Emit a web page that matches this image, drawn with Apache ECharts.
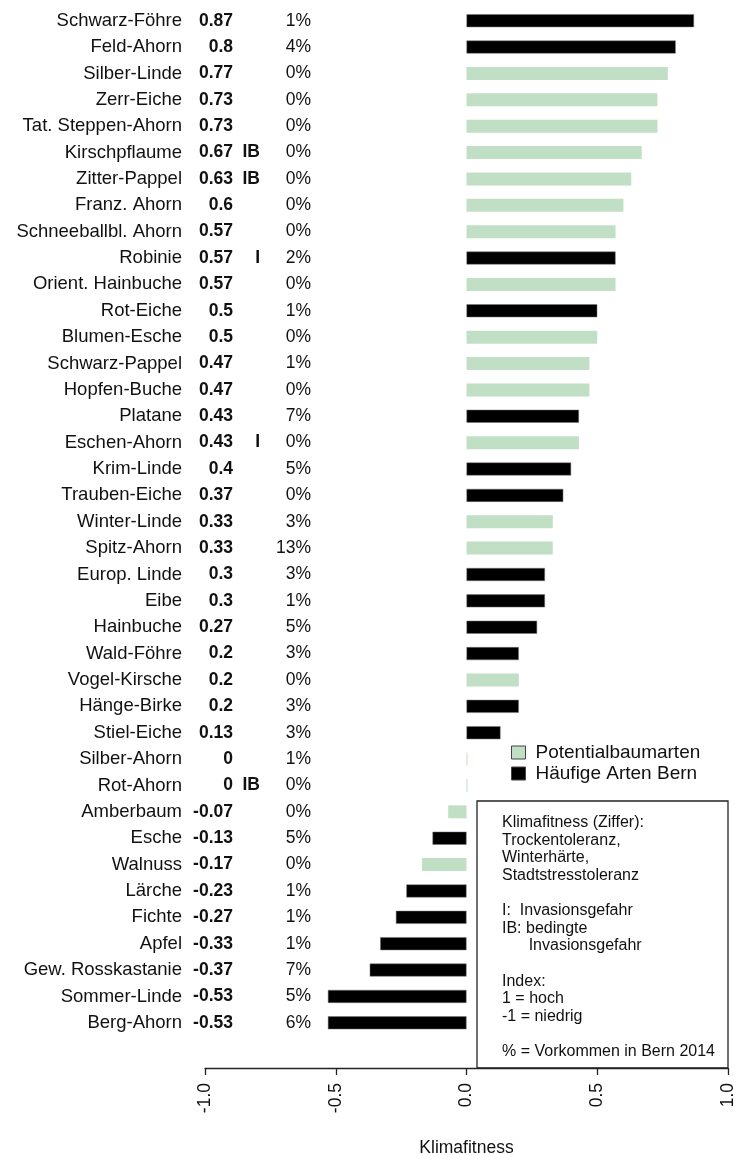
<!DOCTYPE html>
<html>
<head>
<meta charset="utf-8">
<script src="https://cdn.jsdelivr.net/npm/echarts@6/dist/echarts.min.js"></script>
<style>
  html, body { margin: 0; padding: 0; background: #fff; }
  #chart { width: 736px; height: 1155px; }
</style>
</head>
<body>
<div id="chart"></div>
<script>
// Baumarten (von oben nach unten)
const species = [
  'Schwarz-Föhre', 'Feld-Ahorn', 'Silber-Linde', 'Zerr-Eiche', 'Tat. Steppen-Ahorn',
  'Kirschpflaume', 'Zitter-Pappel', 'Franz. Ahorn', 'Schneeballbl. Ahorn', 'Robinie',
  'Orient. Hainbuche', 'Rot-Eiche', 'Blumen-Esche', 'Schwarz-Pappel', 'Hopfen-Buche',
  'Platane', 'Eschen-Ahorn', 'Krim-Linde', 'Trauben-Eiche', 'Winter-Linde',
  'Spitz-Ahorn', 'Europ. Linde', 'Eibe', 'Hainbuche', 'Wald-Föhre',
  'Vogel-Kirsche', 'Hänge-Birke', 'Stiel-Eiche', 'Silber-Ahorn', 'Rot-Ahorn',
  'Amberbaum', 'Esche', 'Walnuss', 'Lärche', 'Fichte',
  'Apfel', 'Gew. Rosskastanie', 'Sommer-Linde', 'Berg-Ahorn'
];
// Klimafitness
const fitness = [
  0.87, 0.8, 0.77, 0.73, 0.73,
  0.67, 0.63, 0.6, 0.57, 0.57,
  0.57, 0.5, 0.5, 0.47, 0.47,
  0.43, 0.43, 0.4, 0.37, 0.33,
  0.33, 0.3, 0.3, 0.27, 0.2,
  0.2, 0.2, 0.13, 0, 0,
  -0.07, -0.13, -0.17, -0.23, -0.27,
  -0.33, -0.37, -0.53, -0.53
];
// Invasionsgefahr
const invasion = [
  '', '', '', '', '',
  'IB', 'IB', '', '', 'I',
  '', '', '', '', '',
  '', 'I', '', '', '',
  '', '', '', '', '',
  '', '', '', '', 'IB',
  '', '', '', '', '',
  '', '', '', ''
];
// Vorkommen in Bern 2014 (%)
const share = [
  1, 4, 0, 0, 0,
  0, 0, 0, 0, 2,
  0, 1, 0, 1, 0,
  7, 0, 5, 0, 3,
  13, 3, 1, 5, 3,
  0, 3, 3, 1, 0,
  0, 5, 0, 1, 1,
  1, 7, 5, 6
];
// 1 = Häufige Arten Bern, 0 = Potentialbaumarten
const common = [
  1, 1, 0, 0, 0,
  0, 0, 0, 0, 1,
  0, 1, 0, 0, 0,
  1, 0, 1, 1, 0,
  0, 1, 1, 1, 1,
  0, 1, 1, 0, 0,
  0, 1, 0, 1, 1,
  1, 1, 1, 1
];
const xTicks = [-1, -0.5, 0, 0.5, 1];

const noteLines = [
  'Klimafitness (Ziffer):',
  'Trockentoleranz,',
  'Winterhärte,',
  'Stadtstresstoleranz',
  '',
  'I:  Invasionsgefahr',
  'IB: bedingte',
  '      Invasionsgefahr',
  '',
  'Index:',
  '1 = hoch',
  '-1 = niedrig',
  '',
  '% = Vorkommen in Bern 2014'
];

const GREEN = '#c1dfc4';
const FONT = 'Liberation Sans, Arial, sans-serif';

const potential = fitness.map((v, i) => common[i] ? '-' : v);
const haeufig = fitness.map((v, i) => common[i] ? v : '-');

const chart = echarts.init(document.getElementById('chart'));
chart.setOption({
  animation: false,
  textStyle: { fontFamily: FONT },
  grid: { left: 205, right: 8, top: 7.5, bottom: 119, containLabel: false, outerBoundsMode: 'none' },
  legend: {
    orient: 'vertical',
    left: 506,
    top: 738,
    itemWidth: 14,
    itemHeight: 13,
    itemGap: 2,
    icon: 'rect',
    data: ['Potentialbaumarten', 'Häufige Arten Bern'],
    textStyle: { fontSize: 19, color: '#111', fontFamily: FONT, padding: [0, 0, 0, 5] },
    itemStyle: { borderColor: '#444', borderWidth: 1 }
  },
  xAxis: {
    type: 'value',
    min: -1,
    max: 1,
    interval: 0.5,
    offset: 32,
    splitLine: { show: false },
    axisLine: { show: true, onZero: false, lineStyle: { color: '#222', width: 1.3 } },
    axisTick: { show: true, length: 7, lineStyle: { color: '#222', width: 1.3 } },
    axisLabel: {
      rotate: 90,
      margin: 15,
      fontSize: 17.5,
      color: '#111',
      customValues: xTicks,
      formatter: v => v.toFixed(1)
    },
    name: 'Klimafitness',
    nameLocation: 'middle',
    nameGap: 71,
    nameTextStyle: { fontSize: 17.5, color: '#111' }
  },
  yAxis: {
    type: 'category',
    inverse: true,
    data: species,
    offset: -106,
    axisLine: { show: false, onZero: false },
    axisTick: { show: false },
    splitLine: { show: false },
    axisLabel: {
      margin: 0,
      interval: 0,
      color: '#111',
      fontSize: 17.5,
      formatter: (name, i) =>
        '{n|' + name + '}{v|' + String(fitness[i]) + '}{f|' + (invasion[i] || ' ') + '}{p|' + share[i] + '%}',
      rich: {
        n: { width: 180, align: 'right', fontSize: 18.5, color: '#111' },
        v: { width: 51, align: 'right', fontSize: 17.5, fontWeight: 'bold', color: '#111' },
        f: { width: 27, align: 'right', fontSize: 17.5, fontWeight: 'bold', color: '#111' },
        p: { width: 51, align: 'right', fontSize: 17.5, color: '#111' }
      }
    }
  },
  series: [
    {
      name: 'Potentialbaumarten',
      type: 'bar',
      data: potential,
      barWidth: 13,
      barGap: '-100%',
      barMinHeight: 1,
      itemStyle: { color: GREEN }
    },
    {
      name: 'Häufige Arten Bern',
      type: 'bar',
      data: haeufig,
      barWidth: 13,
      barGap: '-100%',
      itemStyle: { color: '#000', borderColor: '#777', borderWidth: 0.5 }
    }
  ],
  graphic: [
    {
      type: 'rect',
      shape: { x: 477, y: 801, width: 251, height: 267 },
      style: { fill: 'none', stroke: '#222', lineWidth: 1.3 },
      silent: true
    },
    {
      type: 'text',
      x: 502,
      y: 814,
      style: {
        text: noteLines.join('\n'),
        font: '16px ' + FONT,
        lineHeight: 17.6,
        fill: '#111'
      },
      silent: true
    }
  ]
});
</script>
</body>
</html>
